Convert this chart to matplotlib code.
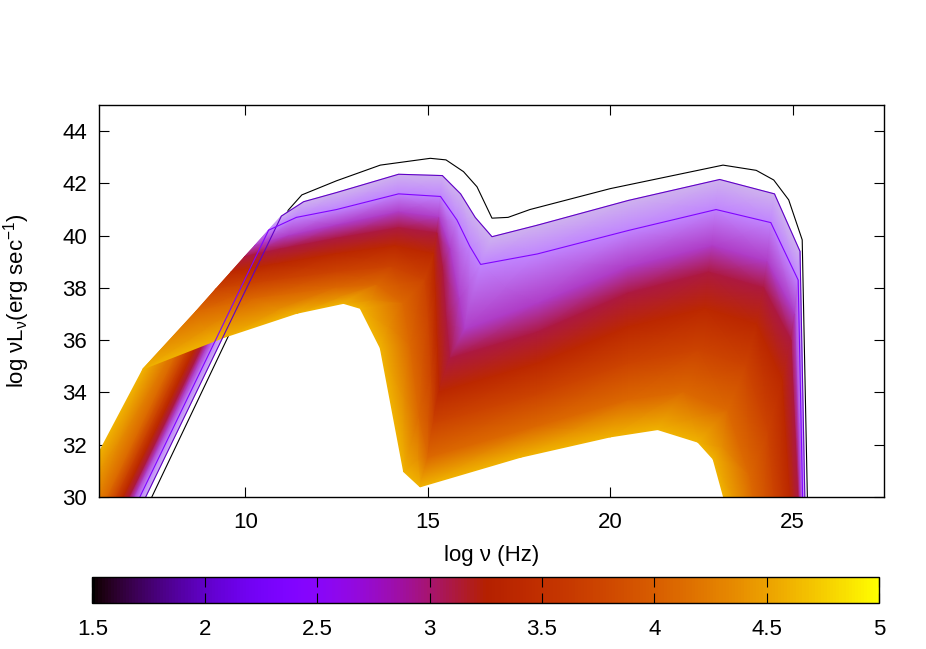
import numpy as np
import matplotlib
matplotlib.use('Agg')
import matplotlib.pyplot as plt
from matplotlib.colors import Normalize, ListedColormap
from matplotlib.cm import ScalarMappable
from matplotlib.ticker import FormatStrFormatter

plt.rcParams['font.family'] = ['Liberation Sans', 'DejaVu Sans']
plt.rcParams['mathtext.default'] = 'regular'

# first snapshot, log t = 1.5 (black line on top)
t_first = 1.5
x_first = [6.76, 7.44, 11.18, 11.55, 12.5, 13.7, 15.07, 15.5, 15.98, 16.35, 16.76,
           17.2, 17.8, 20.0, 23.09, 24.0, 24.48, 24.89, 25.26, 25.43]
y_first = [28.0, 30.0, 40.98, 41.56, 42.1, 42.7, 42.96, 42.9, 42.45, 41.87, 40.67,
           40.7, 41.0, 41.8, 42.7, 42.5, 42.13, 41.37, 39.84, 28.0]

# later snapshots at matching spectral features
# (start, SSA break, synchrotron, drop, valley, IC hump, cutoff, end)
x_t20 = [6.58, 10.99, 11.6, 12.5, 14.2, 15.4, 15.9, 16.3, 16.76, 18.0, 20.5, 23.0, 24.5, 25.2, 25.36]
y_t20 = [28.0, 40.75, 41.3, 41.65, 42.35, 42.3, 41.6, 40.7, 39.96, 40.4, 41.35, 42.15, 41.6, 39.4, 28.0]

x_t24 = [6.42, 10.64, 11.4, 12.5, 14.2, 15.35, 15.8, 16.15, 16.45, 18.0, 20.5, 22.9, 24.4, 25.15, 25.3]
y_t24 = [28.0, 40.21, 40.7, 41.0, 41.6, 41.5, 40.6, 39.6, 38.9, 39.3, 40.2, 41.0, 40.5, 38.3, 28.0]

x_t28 = [6.25, 10.27, 11.2, 12.5, 14.2, 15.3, 15.6, 15.85, 16.0, 18.0, 20.5, 22.8, 24.3, 25.05, 25.25]
y_t28 = [28.0, 39.63, 40.0, 40.4, 40.9, 40.7, 39.5, 37.6, 36.4, 37.4, 38.8, 39.6, 39.0, 37.0, 28.0]

x_t31 = [6.12, 9.99, 11.0, 12.5, 14.2, 15.25, 15.4, 15.5, 15.6, 18.0, 20.5, 22.7, 24.2, 24.95, 25.2]
y_t31 = [28.0, 39.2, 39.5, 39.9, 40.3, 40.1, 38.8, 36.8, 35.3, 36.3, 37.8, 38.6, 38.0, 36.0, 28.0]

x_t34 = [5.95, 9.62, 10.8, 12.5, 14.1, 15.15, 15.2, 15.25, 15.3, 18.0, 20.5, 22.6, 24.0, 24.7, 25.0]
y_t34 = [28.0, 38.62, 38.9, 39.3, 39.6, 39.3, 37.8, 35.8, 34.0, 35.1, 36.5, 37.2, 36.6, 34.5, 28.0]

x_t375 = [5.75, 9.19, 10.6, 12.5, 14.0, 14.9, 15.0, 15.08, 15.15, 18.0, 20.5, 22.4, 23.7, 24.3, 24.6]
y_t375 = [28.0, 37.95, 38.25, 38.6, 38.8, 38.3, 36.8, 34.5, 32.8, 33.9, 35.1, 35.6, 35.0, 32.5, 28.0]

x_t41 = [5.5, 8.65, 10.3, 12.5, 13.6, 14.3, 14.5, 14.75, 15.0, 18.0, 20.5, 22.0, 23.2, 23.8, 24.1]
y_t41 = [28.0, 37.1, 37.6, 38.0, 38.1, 37.4, 35.8, 33.0, 31.5, 32.7, 33.7, 34.0, 33.3, 30.8, 28.0]

x_t46 = [4.59, 7.2, 9.4, 11.41, 12.69, 13.15, 13.7, 14.34, 14.79, 17.54, 20.0, 21.3, 22.4, 22.82, 23.5]
y_t46 = [28.0, 34.9, 36.1, 37.03, 37.41, 37.22, 35.7, 30.97, 30.39, 31.52, 32.3, 32.58, 32.1, 31.45, 28.0]

t_keys = [2.0, 2.4, 2.8, 3.1, 3.4, 3.75, 4.1, 4.6]
x_keys = [x_t20, x_t24, x_t28, x_t31, x_t34, x_t375, x_t41, x_t46]
y_keys = [y_t20, y_t24, y_t28, y_t31, y_t34, y_t375, y_t41, y_t46]

cmap = plt.get_cmap('gnuplot')
norm = Normalize(vmin=1.5, vmax=5)

# early snapshots are thin lines with white gaps between them, so the band
# looks paler there; wash the palette out towards white for small log t
tt = np.linspace(1.5, 5, 256)
wash = np.clip((3.05 - tt) / 0.9, 0, 1) * 0.7
rgb = cmap(norm(tt))[:, :3]
band_cmap = ListedColormap(rgb * (1 - wash[:, None]) + wash[:, None])

X = np.array(x_keys)
Y = np.array(y_keys)
C = np.repeat(np.array(t_keys)[:, None], X.shape[1], axis=1)

fig = plt.figure(figsize=(9.26, 6.49), dpi=100)
ax = fig.add_axes([0.1072, 0.2342, 0.8474, 0.604])

ax.plot(x_first, y_first, color=cmap(norm(t_first)), lw=0.8, zorder=1)
ax.pcolormesh(X, Y, C, shading='gouraud', cmap=band_cmap, norm=norm, zorder=2)
for k in range(2):
    ax.plot(x_keys[k], y_keys[k], color=cmap(norm(t_keys[k])), lw=0.8, zorder=3)

ax.set_xlim(6, 27.5)
ax.set_ylim(30, 45)
ax.set_xticks([10, 15, 20, 25])
ax.set_yticks([30, 32, 34, 36, 38, 40, 42, 44])
ax.tick_params(direction='in', length=7, width=0.8, top=True, right=True, labelsize=16)
ax.tick_params(axis='x', pad=11)
ax.tick_params(axis='y', pad=9)
for sp in ax.spines.values():
    sp.set_linewidth(1.0)
    sp.set_zorder(10)
ax.set_xlabel('log ν (Hz)', fontsize=16)
ax.set_ylabel('log νL$_ν$(erg sec$^{-1}$)', fontsize=16)
ax.xaxis.set_label_coords(0.5, -0.122)
ax.yaxis.set_label_coords(-0.086, 0.5)

cax = fig.add_axes([0.0997, 0.0704, 0.8499, 0.0401])
cb = fig.colorbar(ScalarMappable(norm=norm, cmap=cmap), cax=cax, orientation='horizontal',
                  ticks=[1.5, 2, 2.5, 3, 3.5, 4, 4.5, 5])
cb.ax.xaxis.set_major_formatter(FormatStrFormatter('%g'))
cb.ax.tick_params(direction='in', length=7, width=0.8, top=True, bottom=True,
                  labelsize=16, pad=11)
cb.outline.set_linewidth(1.0)

fig.savefig('out.png', dpi=100)
